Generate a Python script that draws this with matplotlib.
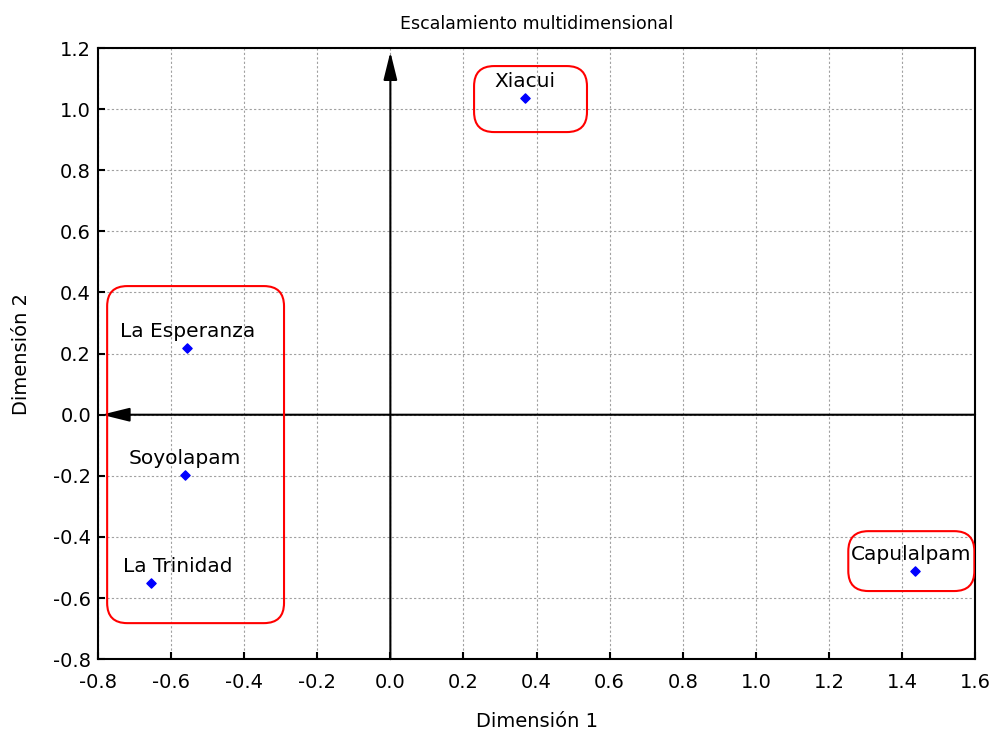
import matplotlib.pyplot as plt
from matplotlib.patches import FancyBboxPatch

plt.rcParams['font.family'] = ['DejaVu Sans']

# data
sites = ["Xiacui", "La Esperanza", "Soyolapam", "La Trinidad", "Capulalpam"]
dim1 = [0.369, -0.556, -0.562, -0.655, 1.436]
dim2 = [1.036, 0.218, -0.198, -0.551, -0.512]

# groups drawn as rounded boxes: (x0, y0, x1, y1)
groups_x0 = [-0.775, 0.229, 1.253]
groups_y0 = [-0.682, 0.925, -0.577]
groups_x1 = [-0.291, 0.538, 1.598]
groups_y1 = [0.421, 1.141, -0.381]

xticks = [-0.8, -0.6, -0.4, -0.2, 0.0, 0.2, 0.4, 0.6, 0.8, 1.0, 1.2, 1.4, 1.6]
yticks = [-0.8, -0.6, -0.4, -0.2, 0.0, 0.2, 0.4, 0.6, 0.8, 1.0, 1.2]

fig = plt.figure(figsize=(9.95, 7.39), dpi=100)
ax = fig.add_axes([0.0985, 0.108, 0.8815, 0.827])
ax.set_xlim(-0.8, 1.6)
ax.set_ylim(-0.8, 1.2)
ax.set_xticks(xticks)
ax.set_yticks(yticks)
ax.set_xticklabels([f"{t:.1f}" for t in xticks])
ax.set_yticklabels([f"{t:.1f}" for t in yticks])
ax.tick_params(direction='in', length=5, width=1.5, labelsize=14)
ax.tick_params(axis='x', pad=10)
ax.tick_params(axis='y', pad=5)
ax.grid(True, color='#a0a0a0', linestyle=(0, (2, 2)), linewidth=0.8)
ax.set_axisbelow(True)
for s in ax.spines.values():
    s.set_linewidth(1.5)

# axes arrows
arrow = "-|>,head_length=1.7,head_width=0.42"
ax.annotate("", xy=(0, 1.187), xytext=(0, -0.8),
            arrowprops=dict(arrowstyle=arrow, color='black', lw=1.5,
                            shrinkA=0, shrinkB=0))
ax.annotate("", xy=(-0.79, 0), xytext=(1.6, 0),
            arrowprops=dict(arrowstyle=arrow, color='black', lw=1.5,
                            shrinkA=0, shrinkB=0))

for x0, y0, x1, y1 in zip(groups_x0, groups_y0, groups_x1, groups_y1):
    box = FancyBboxPatch((x0, y0), x1 - x0, y1 - y0,
                         boxstyle="round,pad=0,rounding_size=0.055",
                         mutation_aspect=1.196, fill=False,
                         edgecolor='#ff0000', linewidth=1.5, zorder=3)
    ax.add_patch(box)

ax.scatter(dim1, dim2, marker='D', s=22, color='#0000ff', zorder=4)
# horizontal nudge of each label, in points
label_dx = [0, 0, 0, 19, -3]
for name, x, y, dx in zip(sites, dim1, dim2, label_dx):
    ax.annotate(name, (x, y), xytext=(dx, 5), textcoords='offset points',
                ha='center', va='bottom', fontsize=14.5, clip_on=True)

ax.set_xlabel("Dimensión 1", fontsize=14, labelpad=14)
ax.set_ylabel("Dimensión 2", fontsize=14, labelpad=16)
ax.set_title("Escalamiento multidimensional", fontsize=12.5, pad=14)

fig.savefig("out.png", dpi=100)
